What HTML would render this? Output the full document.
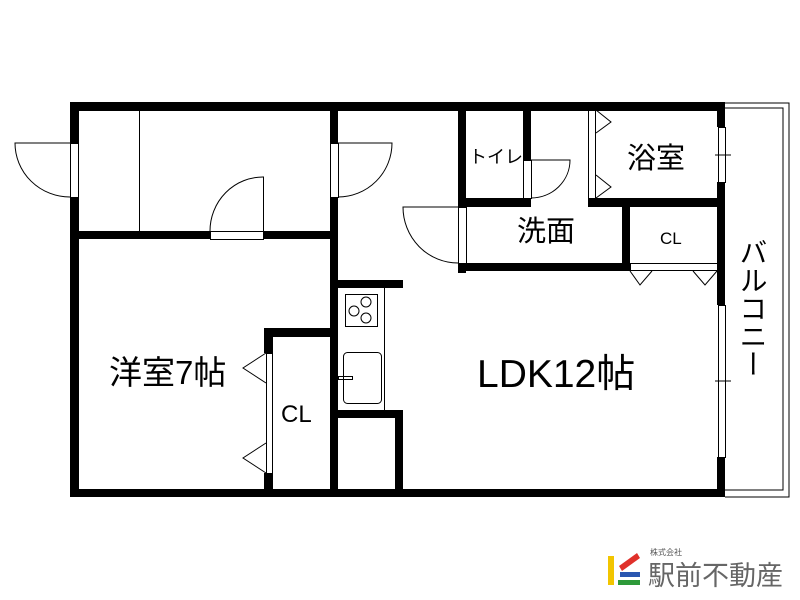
<!DOCTYPE html>
<html><head><meta charset="utf-8"><style>
html,body{margin:0;padding:0;background:#fff;}
svg{display:block;}
text{font-family:"Liberation Sans","Noto Sans CJK JP",sans-serif;fill:#000;}
</style></head><body>
<svg width="800" height="600" viewBox="0 0 800 600" xmlns="http://www.w3.org/2000/svg">
<rect width="800" height="600" fill="#fff"/>
<g fill="none" stroke="#000" stroke-width="1">
<path d="M725 103 H789 V497 H725"/>
<path d="M725 108 H783 V490 H725"/>
</g>
<g fill="#000">
<rect x="70" y="102" width="655" height="9"/>
<rect x="70" y="489" width="655" height="8"/>
<rect x="70" y="102" width="9" height="41"/>
<rect x="70" y="197" width="9" height="300"/>
<rect x="717" y="102" width="8" height="25"/>
<rect x="717" y="182" width="8" height="123"/>
<rect x="717" y="457" width="8" height="40"/>
<rect x="70" y="231" width="140" height="8"/>
<rect x="263" y="231" width="75" height="8"/>
<rect x="330" y="102" width="8" height="41"/>
<rect x="330" y="197" width="8" height="300"/>
<rect x="338" y="280" width="65" height="8"/>
<rect x="338" y="410" width="65" height="8"/>
<rect x="395" y="410" width="8" height="87"/>
<rect x="264" y="328" width="70" height="9"/>
<rect x="264" y="328" width="9" height="25"/>
<rect x="264" y="473" width="9" height="24"/>
<rect x="458" y="102" width="8" height="105"/>
<rect x="458" y="263" width="8" height="10"/>
<rect x="458" y="198" width="73" height="9"/>
<rect x="523" y="102" width="8" height="58"/>
<rect x="458" y="263" width="172" height="8"/>
<rect x="588" y="198" width="137" height="9"/>
<rect x="622" y="198" width="8" height="73"/>
</g>
<g fill="none" stroke="#000" stroke-width="1">
<rect x="70.5" y="143.5" width="8" height="54"/>
<rect x="330.5" y="143.5" width="8" height="54"/>
<rect x="210.5" y="231.5" width="53" height="8"/>
<rect x="523.5" y="160.5" width="8" height="38"/>
<rect x="458.5" y="207.5" width="8" height="56"/>
<path d="M70 143 H15 A55 54 0 0 0 70 197"/>
<path d="M338 143 H392 A54 54 0 0 1 338 197"/>
<path d="M263.5 231 V177 A53 54 0 0 0 210 231"/>
<path d="M531 160 H570 A39 38 0 0 1 531 198"/>
<path d="M458 207 H403 A55 56 0 0 0 458 263"/>
<path d="M139.5 110 V231"/>
<rect x="588.5" y="110.5" width="7" height="88"/>
<path d="M596 110 L611 122 L596 133 M596 175 L611 187 L596 198"/>
<rect x="630.5" y="263.5" width="87" height="7"/>
<path d="M630 271 L640 285 L652 271 M693 271 L705 285 L717 271"/>
<rect x="266.5" y="353.5" width="6" height="120"/>
<path d="M266 353 L243 368 L266 383 M266 443 L243 458 L266 473"/>
<rect x="718.5" y="127.5" width="7" height="55"/>
<path d="M715 155 H731"/>
<rect x="718.5" y="305.5" width="7" height="152"/>
<path d="M715 381 H731"/>
<path d="M384.5 288 V410"/>
<rect x="345.5" y="294.5" width="32" height="32"/>
<circle cx="354" cy="311" r="5"/>
<circle cx="366" cy="302" r="5"/>
<circle cx="366" cy="318" r="5"/>
<rect x="343.5" y="352.5" width="38" height="51" rx="4"/>
<rect x="338.5" y="376.5" width="14" height="3"/>
</g>
<text x="109" y="384" font-size="33">洋室7帖</text>
<text x="281" y="422" font-size="24">CL</text>
<text x="477" y="387" font-size="39">LDK12帖</text>
<text x="627" y="168" font-size="29">浴室</text>
<text x="517" y="241" font-size="29">洗面</text>
<text x="660" y="244" font-size="17">CL</text>
<text x="469" y="163" font-size="18">トイレ</text>
<text x="752" y="238" font-size="28" style="writing-mode:vertical-rl">バルコニー</text>
<rect x="608" y="556" width="6" height="29" fill="#f2c500"/>
<polygon points="619,566 637,553 640,558 622,571" fill="#e0302a"/>
<rect x="620" y="572" width="20" height="5" fill="#2a56b0"/>
<rect x="618" y="580" width="22" height="5" fill="#2e9a3a"/>
<text x="650" y="555" font-size="8" style="fill:#555">株式会社</text>
<text x="648" y="585" font-size="27" style="fill:#666">駅前不動産</text>
</svg>
</body></html>
